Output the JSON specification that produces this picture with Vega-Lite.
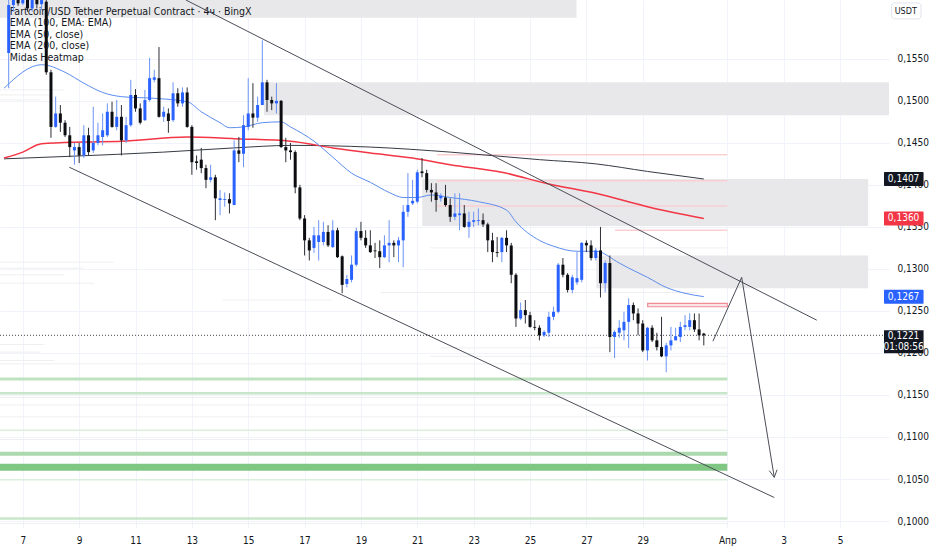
{
  "$schema": "https://vega.github.io/schema/vega-lite/v6.json",
  "width": 889,
  "height": 528,
  "autosize": "none",
  "padding": {"left": 0, "top": 0, "right": 43, "bottom": 22},
  "background": "white",
  "config": {
    "font": "'Liberation Sans Narrow', 'DejaVu Sans Condensed', Roboto",
    "view": {"stroke": null},
    "axis": {"labelFont": "'Liberation Sans Narrow', 'DejaVu Sans Condensed', Roboto", "labelColor": "#131722", "labelFontSize": 10, "gridColor": "#f0f3fa", "domain": false, "ticks": false}
  },
  "resolve": {"scale": {"color": "independent"}},
  "datasets": {
    "candles": [
      {"t": "2025-03-06T12:00Z", "o": 0.1557, "h": 0.1638, "l": 0.1515, "c": 0.1614},
      {"t": "2025-03-06T16:00Z", "o": 0.1614, "h": 0.1634, "l": 0.1606, "c": 0.1626},
      {"t": "2025-03-06T20:00Z", "o": 0.1626, "h": 0.1638, "l": 0.1613, "c": 0.1616},
      {"t": "2025-03-07T00:00Z", "o": 0.1616, "h": 0.1641, "l": 0.1614, "c": 0.1630},
      {"t": "2025-03-07T04:00Z", "o": 0.1630, "h": 0.1634, "l": 0.1606, "c": 0.1610},
      {"t": "2025-03-07T08:00Z", "o": 0.1610, "h": 0.1632, "l": 0.1606, "c": 0.1622},
      {"t": "2025-03-07T12:00Z", "o": 0.1622, "h": 0.1630, "l": 0.1610, "c": 0.1615},
      {"t": "2025-03-07T16:00Z", "o": 0.1615, "h": 0.1627, "l": 0.1608, "c": 0.1620},
      {"t": "2025-03-07T20:00Z", "o": 0.1618, "h": 0.1622, "l": 0.1531, "c": 0.1534},
      {"t": "2025-03-08T00:00Z", "o": 0.1534, "h": 0.1537, "l": 0.1456, "c": 0.1469},
      {"t": "2025-03-08T04:00Z", "o": 0.1469, "h": 0.1505, "l": 0.1468, "c": 0.1485},
      {"t": "2025-03-08T08:00Z", "o": 0.1485, "h": 0.1495, "l": 0.1463, "c": 0.1474},
      {"t": "2025-03-08T12:00Z", "o": 0.1474, "h": 0.1477, "l": 0.1457, "c": 0.1459},
      {"t": "2025-03-08T16:00Z", "o": 0.1459, "h": 0.1469, "l": 0.1433, "c": 0.1445},
      {"t": "2025-03-08T20:00Z", "o": 0.1441, "h": 0.1450, "l": 0.1424, "c": 0.1445},
      {"t": "2025-03-09T00:00Z", "o": 0.1445, "h": 0.1450, "l": 0.1426, "c": 0.1435},
      {"t": "2025-03-09T04:00Z", "o": 0.1435, "h": 0.1471, "l": 0.1432, "c": 0.1459},
      {"t": "2025-03-09T08:00Z", "o": 0.1459, "h": 0.1468, "l": 0.1435, "c": 0.1439},
      {"t": "2025-03-09T12:00Z", "o": 0.1441, "h": 0.1493, "l": 0.1438, "c": 0.1450},
      {"t": "2025-03-09T16:00Z", "o": 0.1450, "h": 0.1474, "l": 0.1447, "c": 0.1459},
      {"t": "2025-03-09T20:00Z", "o": 0.1457, "h": 0.1485, "l": 0.1447, "c": 0.1465},
      {"t": "2025-03-10T00:00Z", "o": 0.1459, "h": 0.1497, "l": 0.1457, "c": 0.1487},
      {"t": "2025-03-10T04:00Z", "o": 0.1487, "h": 0.1499, "l": 0.1468, "c": 0.1469},
      {"t": "2025-03-10T08:00Z", "o": 0.1469, "h": 0.1501, "l": 0.1465, "c": 0.1481},
      {"t": "2025-03-10T12:00Z", "o": 0.1481, "h": 0.1495, "l": 0.1435, "c": 0.1453},
      {"t": "2025-03-10T16:00Z", "o": 0.1453, "h": 0.1481, "l": 0.1450, "c": 0.1471},
      {"t": "2025-03-10T20:00Z", "o": 0.1471, "h": 0.1525, "l": 0.1469, "c": 0.1507},
      {"t": "2025-03-11T00:00Z", "o": 0.1507, "h": 0.1514, "l": 0.1487, "c": 0.1491},
      {"t": "2025-03-11T04:00Z", "o": 0.1491, "h": 0.1497, "l": 0.1472, "c": 0.1474},
      {"t": "2025-03-11T08:00Z", "o": 0.1477, "h": 0.1513, "l": 0.1476, "c": 0.1501},
      {"t": "2025-03-11T12:00Z", "o": 0.1501, "h": 0.1551, "l": 0.1499, "c": 0.1527},
      {"t": "2025-03-11T16:00Z", "o": 0.1525, "h": 0.1537, "l": 0.1522, "c": 0.1528},
      {"t": "2025-03-11T20:00Z", "o": 0.1527, "h": 0.1564, "l": 0.1480, "c": 0.1481},
      {"t": "2025-03-12T00:00Z", "o": 0.1481, "h": 0.1493, "l": 0.1475, "c": 0.1487},
      {"t": "2025-03-12T04:00Z", "o": 0.1485, "h": 0.1491, "l": 0.1462, "c": 0.1476},
      {"t": "2025-03-12T08:00Z", "o": 0.1477, "h": 0.1522, "l": 0.1475, "c": 0.1509},
      {"t": "2025-03-12T12:00Z", "o": 0.1509, "h": 0.1515, "l": 0.1493, "c": 0.1497},
      {"t": "2025-03-12T16:00Z", "o": 0.1497, "h": 0.1516, "l": 0.1493, "c": 0.1510},
      {"t": "2025-03-12T20:00Z", "o": 0.1510, "h": 0.1516, "l": 0.1468, "c": 0.1469},
      {"t": "2025-03-13T00:00Z", "o": 0.1469, "h": 0.1471, "l": 0.1412, "c": 0.1427},
      {"t": "2025-03-13T04:00Z", "o": 0.1428, "h": 0.1435, "l": 0.1418, "c": 0.1426},
      {"t": "2025-03-13T08:00Z", "o": 0.1430, "h": 0.1444, "l": 0.1414, "c": 0.1420},
      {"t": "2025-03-13T12:00Z", "o": 0.1420, "h": 0.1424, "l": 0.1396, "c": 0.1406},
      {"t": "2025-03-13T16:00Z", "o": 0.1406, "h": 0.1424, "l": 0.1403, "c": 0.1409},
      {"t": "2025-03-13T20:00Z", "o": 0.1409, "h": 0.1412, "l": 0.1358, "c": 0.1384},
      {"t": "2025-03-14T00:00Z", "o": 0.1382, "h": 0.1394, "l": 0.1364, "c": 0.1384},
      {"t": "2025-03-14T04:00Z", "o": 0.1382, "h": 0.1391, "l": 0.1374, "c": 0.1383},
      {"t": "2025-03-14T08:00Z", "o": 0.1383, "h": 0.1390, "l": 0.1366, "c": 0.1378},
      {"t": "2025-03-14T12:00Z", "o": 0.1376, "h": 0.1453, "l": 0.1376, "c": 0.1441},
      {"t": "2025-03-14T16:00Z", "o": 0.1441, "h": 0.1457, "l": 0.1427, "c": 0.1437},
      {"t": "2025-03-14T20:00Z", "o": 0.1437, "h": 0.1483, "l": 0.1421, "c": 0.1471},
      {"t": "2025-03-15T00:00Z", "o": 0.1469, "h": 0.1527, "l": 0.1465, "c": 0.1485},
      {"t": "2025-03-15T04:00Z", "o": 0.1485, "h": 0.1521, "l": 0.1468, "c": 0.1480},
      {"t": "2025-03-15T08:00Z", "o": 0.1480, "h": 0.1505, "l": 0.1475, "c": 0.1495},
      {"t": "2025-03-15T12:00Z", "o": 0.1495, "h": 0.1572, "l": 0.1495, "c": 0.1522},
      {"t": "2025-03-15T16:00Z", "o": 0.1522, "h": 0.1525, "l": 0.1487, "c": 0.1501},
      {"t": "2025-03-15T20:00Z", "o": 0.1501, "h": 0.1505, "l": 0.1489, "c": 0.1497},
      {"t": "2025-03-16T00:00Z", "o": 0.1497, "h": 0.1521, "l": 0.1485, "c": 0.1500},
      {"t": "2025-03-16T04:00Z", "o": 0.1500, "h": 0.1501, "l": 0.1444, "c": 0.1445},
      {"t": "2025-03-16T08:00Z", "o": 0.1445, "h": 0.1456, "l": 0.1427, "c": 0.1441},
      {"t": "2025-03-16T12:00Z", "o": 0.1441, "h": 0.1450, "l": 0.1430, "c": 0.1439},
      {"t": "2025-03-16T16:00Z", "o": 0.1439, "h": 0.1441, "l": 0.1390, "c": 0.1397},
      {"t": "2025-03-16T20:00Z", "o": 0.1397, "h": 0.1400, "l": 0.1358, "c": 0.1360},
      {"t": "2025-03-17T00:00Z", "o": 0.1360, "h": 0.1364, "l": 0.1316, "c": 0.1334},
      {"t": "2025-03-17T04:00Z", "o": 0.1334, "h": 0.1337, "l": 0.1310, "c": 0.1322},
      {"t": "2025-03-17T08:00Z", "o": 0.1325, "h": 0.1350, "l": 0.1319, "c": 0.1340},
      {"t": "2025-03-17T12:00Z", "o": 0.1332, "h": 0.1358, "l": 0.1310, "c": 0.1340},
      {"t": "2025-03-17T16:00Z", "o": 0.1332, "h": 0.1356, "l": 0.1328, "c": 0.1344},
      {"t": "2025-03-17T20:00Z", "o": 0.1344, "h": 0.1352, "l": 0.1326, "c": 0.1328},
      {"t": "2025-03-18T00:00Z", "o": 0.1326, "h": 0.1358, "l": 0.1325, "c": 0.1346},
      {"t": "2025-03-18T04:00Z", "o": 0.1346, "h": 0.1349, "l": 0.1313, "c": 0.1314},
      {"t": "2025-03-18T08:00Z", "o": 0.1315, "h": 0.1316, "l": 0.1271, "c": 0.1281},
      {"t": "2025-03-18T12:00Z", "o": 0.1282, "h": 0.1293, "l": 0.1278, "c": 0.1288},
      {"t": "2025-03-18T16:00Z", "o": 0.1287, "h": 0.1316, "l": 0.1284, "c": 0.1305},
      {"t": "2025-03-18T20:00Z", "o": 0.1305, "h": 0.1349, "l": 0.1303, "c": 0.1345},
      {"t": "2025-03-19T00:00Z", "o": 0.1345, "h": 0.1356, "l": 0.1334, "c": 0.1337},
      {"t": "2025-03-19T04:00Z", "o": 0.1337, "h": 0.1346, "l": 0.1325, "c": 0.1328},
      {"t": "2025-03-19T08:00Z", "o": 0.1328, "h": 0.1346, "l": 0.1319, "c": 0.1320},
      {"t": "2025-03-19T12:00Z", "o": 0.1322, "h": 0.1331, "l": 0.1313, "c": 0.1321},
      {"t": "2025-03-19T16:00Z", "o": 0.1321, "h": 0.1334, "l": 0.1301, "c": 0.1314},
      {"t": "2025-03-19T20:00Z", "o": 0.1314, "h": 0.1340, "l": 0.1313, "c": 0.1328},
      {"t": "2025-03-20T00:00Z", "o": 0.1328, "h": 0.1358, "l": 0.1308, "c": 0.1331},
      {"t": "2025-03-20T04:00Z", "o": 0.1331, "h": 0.1334, "l": 0.1314, "c": 0.1328},
      {"t": "2025-03-20T08:00Z", "o": 0.1328, "h": 0.1338, "l": 0.1308, "c": 0.1334},
      {"t": "2025-03-20T12:00Z", "o": 0.1334, "h": 0.1376, "l": 0.1302, "c": 0.1368},
      {"t": "2025-03-20T16:00Z", "o": 0.1368, "h": 0.1414, "l": 0.1362, "c": 0.1376},
      {"t": "2025-03-20T20:00Z", "o": 0.1378, "h": 0.1406, "l": 0.1376, "c": 0.1381},
      {"t": "2025-03-21T00:00Z", "o": 0.1380, "h": 0.1418, "l": 0.1378, "c": 0.1415},
      {"t": "2025-03-21T04:00Z", "o": 0.1416, "h": 0.1432, "l": 0.1409, "c": 0.1414},
      {"t": "2025-03-21T08:00Z", "o": 0.1414, "h": 0.1418, "l": 0.1391, "c": 0.1394},
      {"t": "2025-03-21T12:00Z", "o": 0.1394, "h": 0.1402, "l": 0.1380, "c": 0.1391},
      {"t": "2025-03-21T16:00Z", "o": 0.1391, "h": 0.1402, "l": 0.1368, "c": 0.1382},
      {"t": "2025-03-21T20:00Z", "o": 0.1384, "h": 0.1390, "l": 0.1380, "c": 0.1387},
      {"t": "2025-03-22T00:00Z", "o": 0.1385, "h": 0.1400, "l": 0.1374, "c": 0.1376},
      {"t": "2025-03-22T04:00Z", "o": 0.1376, "h": 0.1384, "l": 0.1356, "c": 0.1362},
      {"t": "2025-03-22T08:00Z", "o": 0.1362, "h": 0.1390, "l": 0.1358, "c": 0.1366},
      {"t": "2025-03-22T12:00Z", "o": 0.1364, "h": 0.1390, "l": 0.1346, "c": 0.1366},
      {"t": "2025-03-22T16:00Z", "o": 0.1366, "h": 0.1376, "l": 0.1349, "c": 0.1350},
      {"t": "2025-03-22T20:00Z", "o": 0.1350, "h": 0.1368, "l": 0.1337, "c": 0.1356},
      {"t": "2025-03-23T00:00Z", "o": 0.1356, "h": 0.1368, "l": 0.1350, "c": 0.1358},
      {"t": "2025-03-23T04:00Z", "o": 0.1357, "h": 0.1372, "l": 0.1352, "c": 0.1358},
      {"t": "2025-03-23T08:00Z", "o": 0.1358, "h": 0.1366, "l": 0.1350, "c": 0.1353},
      {"t": "2025-03-23T12:00Z", "o": 0.1353, "h": 0.1355, "l": 0.1320, "c": 0.1334},
      {"t": "2025-03-23T16:00Z", "o": 0.1334, "h": 0.1343, "l": 0.1308, "c": 0.1320},
      {"t": "2025-03-23T20:00Z", "o": 0.1320, "h": 0.1338, "l": 0.1314, "c": 0.1319},
      {"t": "2025-03-24T00:00Z", "o": 0.1320, "h": 0.1338, "l": 0.1308, "c": 0.1337},
      {"t": "2025-03-24T04:00Z", "o": 0.1337, "h": 0.1346, "l": 0.1320, "c": 0.1328},
      {"t": "2025-03-24T08:00Z", "o": 0.1328, "h": 0.1331, "l": 0.1283, "c": 0.1293},
      {"t": "2025-03-24T12:00Z", "o": 0.1293, "h": 0.1295, "l": 0.1231, "c": 0.1241},
      {"t": "2025-03-24T16:00Z", "o": 0.1241, "h": 0.1260, "l": 0.1239, "c": 0.1251},
      {"t": "2025-03-24T20:00Z", "o": 0.1251, "h": 0.1263, "l": 0.1235, "c": 0.1245},
      {"t": "2025-03-25T00:00Z", "o": 0.1245, "h": 0.1249, "l": 0.1230, "c": 0.1231},
      {"t": "2025-03-25T04:00Z", "o": 0.1231, "h": 0.1239, "l": 0.1227, "c": 0.1230},
      {"t": "2025-03-25T08:00Z", "o": 0.1230, "h": 0.1233, "l": 0.1215, "c": 0.1221},
      {"t": "2025-03-25T12:00Z", "o": 0.1221, "h": 0.1227, "l": 0.1219, "c": 0.1225},
      {"t": "2025-03-25T16:00Z", "o": 0.1224, "h": 0.1249, "l": 0.1219, "c": 0.1243},
      {"t": "2025-03-25T20:00Z", "o": 0.1243, "h": 0.1255, "l": 0.1239, "c": 0.1249},
      {"t": "2025-03-26T00:00Z", "o": 0.1249, "h": 0.1307, "l": 0.1247, "c": 0.1305},
      {"t": "2025-03-26T04:00Z", "o": 0.1305, "h": 0.1313, "l": 0.1290, "c": 0.1293},
      {"t": "2025-03-26T08:00Z", "o": 0.1293, "h": 0.1295, "l": 0.1272, "c": 0.1275},
      {"t": "2025-03-26T12:00Z", "o": 0.1275, "h": 0.1293, "l": 0.1271, "c": 0.1290},
      {"t": "2025-03-26T16:00Z", "o": 0.1284, "h": 0.1320, "l": 0.1281, "c": 0.1289},
      {"t": "2025-03-26T20:00Z", "o": 0.1287, "h": 0.1332, "l": 0.1284, "c": 0.1331},
      {"t": "2025-03-27T00:00Z", "o": 0.1331, "h": 0.1334, "l": 0.1320, "c": 0.1328},
      {"t": "2025-03-27T04:00Z", "o": 0.1328, "h": 0.1334, "l": 0.1310, "c": 0.1313},
      {"t": "2025-03-27T08:00Z", "o": 0.1313, "h": 0.1325, "l": 0.1310, "c": 0.1322},
      {"t": "2025-03-27T12:00Z", "o": 0.1322, "h": 0.1350, "l": 0.1266, "c": 0.1283},
      {"t": "2025-03-27T16:00Z", "o": 0.1283, "h": 0.1310, "l": 0.1272, "c": 0.1307},
      {"t": "2025-03-27T20:00Z", "o": 0.1307, "h": 0.1316, "l": 0.1201, "c": 0.1219},
      {"t": "2025-03-28T00:00Z", "o": 0.1219, "h": 0.1227, "l": 0.1194, "c": 0.1225},
      {"t": "2025-03-28T04:00Z", "o": 0.1224, "h": 0.1239, "l": 0.1218, "c": 0.1230},
      {"t": "2025-03-28T08:00Z", "o": 0.1227, "h": 0.1249, "l": 0.1215, "c": 0.1237},
      {"t": "2025-03-28T12:00Z", "o": 0.1237, "h": 0.1265, "l": 0.1206, "c": 0.1257},
      {"t": "2025-03-28T16:00Z", "o": 0.1257, "h": 0.1260, "l": 0.1239, "c": 0.1247},
      {"t": "2025-03-28T20:00Z", "o": 0.1247, "h": 0.1253, "l": 0.1221, "c": 0.1235},
      {"t": "2025-03-29T00:00Z", "o": 0.1235, "h": 0.1239, "l": 0.1201, "c": 0.1203},
      {"t": "2025-03-29T04:00Z", "o": 0.1203, "h": 0.1231, "l": 0.1191, "c": 0.1230},
      {"t": "2025-03-29T08:00Z", "o": 0.1230, "h": 0.1233, "l": 0.1213, "c": 0.1215},
      {"t": "2025-03-29T12:00Z", "o": 0.1215, "h": 0.1224, "l": 0.1203, "c": 0.1207},
      {"t": "2025-03-29T16:00Z", "o": 0.1207, "h": 0.1243, "l": 0.1195, "c": 0.1196},
      {"t": "2025-03-29T20:00Z", "o": 0.1196, "h": 0.1212, "l": 0.1177, "c": 0.1209},
      {"t": "2025-03-30T00:00Z", "o": 0.1209, "h": 0.1231, "l": 0.1203, "c": 0.1215},
      {"t": "2025-03-30T04:00Z", "o": 0.1215, "h": 0.1230, "l": 0.1215, "c": 0.1220},
      {"t": "2025-03-30T08:00Z", "o": 0.1219, "h": 0.1237, "l": 0.1213, "c": 0.1231},
      {"t": "2025-03-30T12:00Z", "o": 0.1231, "h": 0.1245, "l": 0.1227, "c": 0.1233},
      {"t": "2025-03-30T16:00Z", "o": 0.1231, "h": 0.1247, "l": 0.1227, "c": 0.1239},
      {"t": "2025-03-30T20:00Z", "o": 0.1239, "h": 0.1247, "l": 0.1225, "c": 0.1228},
      {"t": "2025-03-31T00:00Z", "o": 0.1228, "h": 0.1247, "l": 0.1215, "c": 0.1221},
      {"t": "2025-03-31T04:00Z", "o": 0.1223, "h": 0.1224, "l": 0.1209, "c": 0.1221}
    ],
    "ema": [
      {"s": "ema100", "t": "2025-03-06T08:00Z", "p": 0.1431},
      {"s": "ema100", "t": "2025-03-08T16:00Z", "p": 0.1434},
      {"s": "ema100", "t": "2025-03-12T00:00Z", "p": 0.1439},
      {"s": "ema100", "t": "2025-03-14T12:00Z", "p": 0.1444},
      {"s": "ema100", "t": "2025-03-16T12:00Z", "p": 0.1447},
      {"s": "ema100", "t": "2025-03-19T08:00Z", "p": 0.1445},
      {"s": "ema100", "t": "2025-03-22T04:00Z", "p": 0.1439},
      {"s": "ema100", "t": "2025-03-25T08:00Z", "p": 0.1430},
      {"s": "ema100", "t": "2025-03-27T08:00Z", "p": 0.1425},
      {"s": "ema100", "t": "2025-03-29T04:00Z", "p": 0.1416},
      {"s": "ema100", "t": "2025-03-31T04:00Z", "p": 0.1407},
      {"s": "ema200", "t": "2025-03-06T08:00Z", "p": 0.1432},
      {"s": "ema200", "t": "2025-03-07T00:00Z", "p": 0.1439},
      {"s": "ema200", "t": "2025-03-07T16:00Z", "p": 0.1449},
      {"s": "ema200", "t": "2025-03-09T04:00Z", "p": 0.1451},
      {"s": "ema200", "t": "2025-03-10T12:00Z", "p": 0.1452},
      {"s": "ema200", "t": "2025-03-12T20:00Z", "p": 0.1457},
      {"s": "ema200", "t": "2025-03-14T12:00Z", "p": 0.1455},
      {"s": "ema200", "t": "2025-03-16T12:00Z", "p": 0.1452},
      {"s": "ema200", "t": "2025-03-18T00:00Z", "p": 0.1444},
      {"s": "ema200", "t": "2025-03-19T08:00Z", "p": 0.1438},
      {"s": "ema200", "t": "2025-03-20T20:00Z", "p": 0.1432},
      {"s": "ema200", "t": "2025-03-22T04:00Z", "p": 0.1424},
      {"s": "ema200", "t": "2025-03-24T00:00Z", "p": 0.1415},
      {"s": "ema200", "t": "2025-03-25T16:00Z", "p": 0.1401},
      {"s": "ema200", "t": "2025-03-27T08:00Z", "p": 0.1390},
      {"s": "ema200", "t": "2025-03-29T04:00Z", "p": 0.1374},
      {"s": "ema200", "t": "2025-03-31T04:00Z", "p": 0.1360},
      {"s": "ema50", "t": "2025-03-06T08:00Z", "p": 0.1515},
      {"s": "ema50", "t": "2025-03-07T16:00Z", "p": 0.1543},
      {"s": "ema50", "t": "2025-03-08T12:00Z", "p": 0.1534},
      {"s": "ema50", "t": "2025-03-09T04:00Z", "p": 0.1521},
      {"s": "ema50", "t": "2025-03-09T20:00Z", "p": 0.1510},
      {"s": "ema50", "t": "2025-03-10T12:00Z", "p": 0.1505},
      {"s": "ema50", "t": "2025-03-11T16:00Z", "p": 0.1503},
      {"s": "ema50", "t": "2025-03-12T20:00Z", "p": 0.1499},
      {"s": "ema50", "t": "2025-03-13T08:00Z", "p": 0.1487},
      {"s": "ema50", "t": "2025-03-14T00:00Z", "p": 0.1474},
      {"s": "ema50", "t": "2025-03-14T08:00Z", "p": 0.1468},
      {"s": "ema50", "t": "2025-03-14T20:00Z", "p": 0.1469},
      {"s": "ema50", "t": "2025-03-15T12:00Z", "p": 0.1474},
      {"s": "ema50", "t": "2025-03-16T04:00Z", "p": 0.1475},
      {"s": "ema50", "t": "2025-03-16T12:00Z", "p": 0.1469},
      {"s": "ema50", "t": "2025-03-17T08:00Z", "p": 0.1452},
      {"s": "ema50", "t": "2025-03-18T00:00Z", "p": 0.1433},
      {"s": "ema50", "t": "2025-03-18T16:00Z", "p": 0.1414},
      {"s": "ema50", "t": "2025-03-19T08:00Z", "p": 0.1403},
      {"s": "ema50", "t": "2025-03-20T00:00Z", "p": 0.1391},
      {"s": "ema50", "t": "2025-03-20T12:00Z", "p": 0.1385},
      {"s": "ema50", "t": "2025-03-21T00:00Z", "p": 0.1385},
      {"s": "ema50", "t": "2025-03-21T12:00Z", "p": 0.1388},
      {"s": "ema50", "t": "2025-03-22T04:00Z", "p": 0.1385},
      {"s": "ema50", "t": "2025-03-23T04:00Z", "p": 0.1380},
      {"s": "ema50", "t": "2025-03-24T04:00Z", "p": 0.1370},
      {"s": "ema50", "t": "2025-03-24T12:00Z", "p": 0.1356},
      {"s": "ema50", "t": "2025-03-25T08:00Z", "p": 0.1334},
      {"s": "ema50", "t": "2025-03-25T20:00Z", "p": 0.1327},
      {"s": "ema50", "t": "2025-03-26T16:00Z", "p": 0.1321},
      {"s": "ema50", "t": "2025-03-27T08:00Z", "p": 0.1321},
      {"s": "ema50", "t": "2025-03-28T04:00Z", "p": 0.1307},
      {"s": "ema50", "t": "2025-03-28T12:00Z", "p": 0.1301},
      {"s": "ema50", "t": "2025-03-29T04:00Z", "p": 0.1290},
      {"s": "ema50", "t": "2025-03-29T20:00Z", "p": 0.1278},
      {"s": "ema50", "t": "2025-03-30T12:00Z", "p": 0.1271},
      {"s": "ema50", "t": "2025-03-31T04:00Z", "p": 0.1267}
    ],
    "drawings": [
      {"id": "upper", "k": 0, "t": "2025-03-12T18:56Z", "p": 0.1620},
      {"id": "upper", "k": 1, "t": "2025-04-04T04:12Z", "p": 0.1239},
      {"id": "lower", "k": 0, "t": "2025-03-08T15:35Z", "p": 0.1421},
      {"id": "lower", "k": 1, "t": "2025-04-02T16:00Z", "p": 0.1028},
      {"id": "path", "k": 0, "t": "2025-03-31T11:47Z", "p": 0.1214},
      {"id": "path", "k": 1, "t": "2025-04-01T12:15Z", "p": 0.1290},
      {"id": "path", "k": 2, "t": "2025-04-02T16:00Z", "p": 0.1052},
      {"id": "head", "k": 0, "t": "2025-04-02T11:43Z", "p": 0.1060},
      {"id": "head", "k": 1, "t": "2025-04-02T16:00Z", "p": 0.1052},
      {"id": "head", "k": 2, "t": "2025-04-02T18:22Z", "p": 0.1061}
    ],
    "zones": [
      {"t1": "2025-03-06T00:00Z", "t2": "2025-03-26T15:36Z", "p1": 0.1599, "p2": 0.1630},
      {"t1": "2025-03-15T13:28Z", "t2": "2025-04-06T18:00Z", "p1": 0.1483, "p2": 0.1522},
      {"t1": "2025-03-21T04:12Z", "t2": "2025-04-06T00:00Z", "p1": 0.1351, "p2": 0.1407},
      {"t1": "2025-03-27T08:25Z", "t2": "2025-04-06T00:00Z", "p1": 0.1277, "p2": 0.1316}
    ],
    "levels": [
      {"t1": "2025-03-06T00:00Z", "t2": "2025-03-08T11:22Z", "p": 0.1513, "lvl": "g"},
      {"t1": "2025-03-06T00:00Z", "t2": "2025-03-07T22:44Z", "p": 0.1507, "lvl": "g"},
      {"t1": "2025-03-06T00:00Z", "t2": "2025-03-07T14:19Z", "p": 0.1501, "lvl": "g"},
      {"t1": "2025-03-06T00:00Z", "t2": "2025-03-10T05:28Z", "p": 0.1308, "lvl": "g"},
      {"t1": "2025-03-06T00:00Z", "t2": "2025-03-09T04:13Z", "p": 0.1301, "lvl": "g"},
      {"t1": "2025-03-06T00:00Z", "t2": "2025-03-08T11:22Z", "p": 0.1293, "lvl": "g"},
      {"t1": "2025-03-06T00:00Z", "t2": "2025-03-09T12:38Z", "p": 0.1283, "lvl": "g"},
      {"t1": "2025-03-14T02:07Z", "t2": "2025-03-17T22:44Z", "p": 0.1263, "lvl": "g"},
      {"t1": "2025-03-06T00:00Z", "t2": "2025-03-07T18:32Z", "p": 0.1210, "lvl": "g"},
      {"t1": "2025-03-06T00:00Z", "t2": "2025-03-07T14:19Z", "p": 0.1201, "lvl": "g"},
      {"t1": "2025-03-06T00:00Z", "t2": "2025-03-08T02:57Z", "p": 0.1191, "lvl": "g"},
      {"t1": "2025-03-21T19:22Z", "t2": "2025-04-01T00:00Z", "p": 0.1206, "lvl": "g"},
      {"t1": "2025-03-21T10:57Z", "t2": "2025-04-01T00:00Z", "p": 0.1196, "lvl": "g"},
      {"t1": "2025-03-06T00:00Z", "t2": "2025-04-01T00:00Z", "p": 0.1187, "lvl": "g"},
      {"t1": "2025-03-06T00:00Z", "t2": "2025-04-01T00:00Z", "p": 0.1147, "lvl": "g"},
      {"t1": "2025-03-06T00:00Z", "t2": "2025-04-01T00:00Z", "p": 0.1138, "lvl": "g"},
      {"t1": "2025-03-06T00:00Z", "t2": "2025-04-01T00:00Z", "p": 0.1124, "lvl": "g"},
      {"t1": "2025-03-06T00:00Z", "t2": "2025-04-01T00:00Z", "p": 0.1097, "lvl": "g"},
      {"t1": "2025-03-06T00:00Z", "t2": "2025-04-01T00:00Z", "p": 0.0997, "lvl": "g"},
      {"t1": "2025-03-21T10:57Z", "t2": "2025-04-01T00:00Z", "p": 0.1325, "lvl": "g"},
      {"t1": "2025-03-19T16:51Z", "t2": "2025-03-30T22:19Z", "p": 0.1272, "lvl": "g"},
      {"t1": "2025-03-21T16:50Z", "t2": "2025-04-01T00:00Z", "p": 0.1436, "lvl": "s"},
      {"t1": "2025-03-21T16:50Z", "t2": "2025-04-01T00:00Z", "p": 0.1405, "lvl": "s"},
      {"t1": "2025-03-21T16:50Z", "t2": "2025-04-01T00:00Z", "p": 0.1375, "lvl": "s"},
      {"t1": "2025-03-28T00:25Z", "t2": "2025-04-01T00:00Z", "p": 0.1346, "lvl": "s"},
      {"t1": "2025-03-06T00:00Z", "t2": "2025-04-01T00:00Z", "p": 0.1169, "lvl": "b2"},
      {"t1": "2025-03-06T00:00Z", "t2": "2025-04-01T00:00Z", "p": 0.1152, "lvl": "b1"},
      {"t1": "2025-03-06T00:00Z", "t2": "2025-04-01T00:00Z", "p": 0.1108, "lvl": "b0"},
      {"t1": "2025-03-06T00:00Z", "t2": "2025-04-01T00:00Z", "p": 0.1080, "lvl": "b3"},
      {"t1": "2025-03-06T00:00Z", "t2": "2025-04-01T00:00Z", "p": 0.1064, "lvl": "b4"},
      {"t1": "2025-03-06T00:00Z", "t2": "2025-04-01T00:00Z", "p": 0.1049, "lvl": "b0"},
      {"t1": "2025-03-06T00:00Z", "t2": "2025-04-01T00:00Z", "p": 0.1003, "lvl": "b1"}
    ],
    "tags": [
      {"txt": "0,1407", "p": 0.1407, "k": "ema100"},
      {"txt": "0,1360", "p": 0.1360, "k": "ema200"},
      {"txt": "0,1267", "p": 0.1267, "k": "ema50"}
    ]
  },
  "layer": [
    {
      "data": {"name": "zones"},
      "mark": {"type": "rect", "color": "#e8e8ea", "clip": true},
      "encoding": {
        "x": {
          "field": "t1", "type": "temporal", "title": null,
          "scale": {"type": "utc", "domain": [{"year": 2025, "month": 3, "date": 6, "hours": 8, "minutes": 51, "utc": true}, {"year": 2025, "month": 4, "date": 6, "hours": 13, "minutes": 28, "utc": true}]},
          "axis": {
            "values": [
              {"year": 2025, "month": 3, "date": 7, "utc": true}, {"year": 2025, "month": 3, "date": 9, "utc": true},
              {"year": 2025, "month": 3, "date": 11, "utc": true}, {"year": 2025, "month": 3, "date": 13, "utc": true},
              {"year": 2025, "month": 3, "date": 15, "utc": true}, {"year": 2025, "month": 3, "date": 17, "utc": true},
              {"year": 2025, "month": 3, "date": 19, "utc": true}, {"year": 2025, "month": 3, "date": 21, "utc": true},
              {"year": 2025, "month": 3, "date": 23, "utc": true}, {"year": 2025, "month": 3, "date": 25, "utc": true},
              {"year": 2025, "month": 3, "date": 27, "utc": true}, {"year": 2025, "month": 3, "date": 29, "utc": true},
              {"year": 2025, "month": 4, "date": 1, "utc": true}, {"year": 2025, "month": 4, "date": 3, "utc": true},
              {"year": 2025, "month": 4, "date": 5, "utc": true}
            ],
            "labelExpr": "utcdate(datum.value) == 1 ? 'Апр' : '' + utcdate(datum.value)",
            "labelPadding": 7,
            "labelBaseline": "top",
            "grid": true
          }
        },
        "x2": {"field": "t2"},
        "y": {
          "field": "p1", "type": "quantitative", "title": null,
          "scale": {"domain": [0.09917, 0.162], "nice": false, "zero": false},
          "axis": {
            "orient": "right",
            "values": [0.1, 0.105, 0.11, 0.115, 0.12, 0.125, 0.13, 0.135, 0.14, 0.145, 0.15, 0.155],
            "labelExpr": "replace(format(datum.value, '.4f'), '.', ',')",
            "labelPadding": 8,
            "grid": true
          }
        },
        "y2": {"field": "p2"}
      }
    },
    {
      "data": {"name": "levels"},
      "encoding": {
        "x": {"field": "t1", "type": "temporal", "title": null},
        "x2": {"field": "t2"},
        "y": {"field": "p", "type": "quantitative", "title": null}
      },
      "layer": [
        {"transform": [{"filter": "datum.lvl == 'g'"}], "mark": {"type": "rule", "clip": true, "color": "#efeff1", "strokeWidth": 1}},
        {"transform": [{"filter": "datum.lvl == 's'"}], "mark": {"type": "rule", "clip": true, "color": "#f9cfd3", "strokeWidth": 1.5}},
        {"transform": [{"filter": "datum.lvl == 'b0'"}], "mark": {"type": "rule", "clip": true, "color": "#dcefdd", "strokeWidth": 1.5}},
        {"transform": [{"filter": "datum.lvl == 'b1'"}], "mark": {"type": "rule", "clip": true, "color": "#c8e6c9", "strokeWidth": 2.5}},
        {"transform": [{"filter": "datum.lvl == 'b2'"}], "mark": {"type": "rule", "clip": true, "color": "#bfe2c0", "strokeWidth": 3}},
        {"transform": [{"filter": "datum.lvl == 'b3'"}], "mark": {"type": "rule", "clip": true, "color": "#acd9ae", "strokeWidth": 4}},
        {"transform": [{"filter": "datum.lvl == 'b4'"}], "mark": {"type": "rule", "clip": true, "color": "#81c784", "strokeWidth": 7}}
      ]
    },
    {
      "data": {"values": [{}]},
      "mark": {"type": "rect", "fill": "#fbe4e6", "stroke": "#f08c96", "strokeWidth": 1.2},
      "encoding": {
        "x": {"datum": {"year": 2025, "month": 3, "date": 29, "hours": 4, "minutes": 12, "utc": true}, "type": "temporal"},
        "x2": {"datum": {"year": 2025, "month": 4, "date": 1, "utc": true}},
        "y": {"datum": 0.1259, "type": "quantitative"},
        "y2": {"datum": 0.1255}
      }
    },
    {
      "data": {"values": [{}]},
      "mark": {
        "type": "text", "align": "left", "baseline": "top", "fontSize": 10.5, "lineHeight": 11.5, "color": "#131722",
        "text": ["Fartcoin/USD Tether Perpetual Contract · 4ч · BingX", "EMA (100, EMA: EMA)", "EMA (50, close)", "EMA (200, close)", "Midas Heatmap"]
      },
      "encoding": {
        "x": {"datum": {"year": 2025, "month": 3, "date": 6, "hours": 13, "utc": true}, "type": "temporal"},
        "y": {"datum": 0.1612, "type": "quantitative"}
      }
    },
    {
      "data": {"name": "ema"},
      "encoding": {
        "x": {"field": "t", "type": "temporal", "title": null},
        "y": {"field": "p", "type": "quantitative", "title": null}
      },
      "layer": [
        {"transform": [{"filter": "datum.s == 'ema100'"}], "mark": {"type": "line", "interpolate": "monotone", "clip": true, "color": "#363a45", "strokeWidth": 1}},
        {"transform": [{"filter": "datum.s == 'ema200'"}], "mark": {"type": "line", "interpolate": "monotone", "clip": true, "color": "#f23645", "strokeWidth": 1.5}},
        {"transform": [{"filter": "datum.s == 'ema50'"}], "mark": {"type": "line", "interpolate": "monotone", "clip": true, "color": "#5b8def", "strokeWidth": 1}}
      ]
    },
    {
      "data": {"name": "drawings"},
      "mark": {"type": "line", "color": "#4a4d57", "strokeWidth": 1, "clip": true},
      "encoding": {
        "x": {"field": "t", "type": "temporal", "title": null},
        "y": {"field": "p", "type": "quantitative", "title": null},
        "detail": {"field": "id"},
        "order": {"field": "k"}
      }
    },
    {
      "data": {"values": [{}]},
      "mark": {"type": "rule", "color": "#131722", "strokeDash": [1, 2], "strokeWidth": 1, "opacity": 0.8},
      "encoding": {"y": {"datum": 0.1221, "type": "quantitative"}}
    },
    {
      "data": {"name": "candles"},
      "mark": {"type": "rule", "strokeWidth": 1, "clip": true},
      "encoding": {
        "x": {"field": "t", "type": "temporal", "title": null},
        "y": {"field": "l", "type": "quantitative", "title": null},
        "y2": {"field": "h"},
        "color": {"condition": {"test": "datum.c >= datum.o", "value": "#6b93f5"}, "value": "#2f3037"}
      }
    },
    {
      "data": {"name": "candles"},
      "mark": {"type": "bar", "size": 3, "clip": true},
      "encoding": {
        "x": {"field": "t", "type": "temporal", "title": null},
        "y": {"field": "o", "type": "quantitative", "title": null},
        "y2": {"field": "c"},
        "color": {"condition": {"test": "datum.c >= datum.o", "value": "#2962ff"}, "value": "#0c0d10"}
      }
    },
    {
      "data": {"name": "tags"},
      "mark": {"type": "rect", "yOffset": -7, "y2Offset": 7, "cornerRadius": 1},
      "encoding": {
        "x": {"datum": {"year": 2025, "month": 4, "date": 6, "hours": 13, "minutes": 28, "utc": true}, "type": "temporal"},
        "x2": {"datum": {"year": 2025, "month": 4, "date": 7, "hours": 23, "minutes": 10, "utc": true}},
        "y": {"field": "p", "type": "quantitative", "title": null},
        "y2": {"field": "p"},
        "color": {"field": "k", "type": "nominal", "legend": null, "scale": {"domain": ["ema100", "ema200", "ema50"], "range": ["#131722", "#f23645", "#2962ff"]}}
      }
    },
    {
      "data": {"name": "tags"},
      "mark": {"type": "text", "color": "white", "fontSize": 10, "align": "center", "baseline": "middle"},
      "encoding": {
        "x": {"datum": {"year": 2025, "month": 4, "date": 7, "hours": 6, "minutes": 10, "utc": true}, "type": "temporal"},
        "y": {"field": "p", "type": "quantitative", "title": null},
        "text": {"field": "txt"}
      }
    },
    {
      "data": {"values": [{}]},
      "mark": {"type": "rect", "color": "#131722", "yOffset": -5, "y2Offset": 18},
      "encoding": {
        "x": {"datum": {"year": 2025, "month": 4, "date": 6, "hours": 13, "minutes": 28, "utc": true}, "type": "temporal"},
        "x2": {"datum": {"year": 2025, "month": 4, "date": 7, "hours": 23, "minutes": 10, "utc": true}},
        "y": {"datum": 0.1221, "type": "quantitative"},
        "y2": {"datum": 0.1221}
      }
    },
    {
      "data": {"values": [{}]},
      "mark": {"type": "text", "color": "white", "fontSize": 10, "align": "center", "baseline": "top", "dy": -4, "lineHeight": 10.5, "text": ["0,1221", "01:08:56"]},
      "encoding": {
        "x": {"datum": {"year": 2025, "month": 4, "date": 7, "hours": 6, "minutes": 10, "utc": true}, "type": "temporal"},
        "y": {"datum": 0.1221, "type": "quantitative"}
      }
    },
    {
      "data": {"values": [{}]},
      "mark": {"type": "rect", "fill": "white", "stroke": "#e0e3eb", "strokeWidth": 1, "cornerRadius": 3, "yOffset": -8, "y2Offset": 8},
      "encoding": {
        "x": {"datum": {"year": 2025, "month": 4, "date": 6, "hours": 20, "utc": true}, "type": "temporal"},
        "x2": {"datum": {"year": 2025, "month": 4, "date": 7, "hours": 21, "utc": true}},
        "y": {"datum": 0.1607, "type": "quantitative"},
        "y2": {"datum": 0.1607}
      }
    },
    {
      "data": {"values": [{}]},
      "mark": {"type": "text", "color": "#131722", "fontSize": 9, "align": "center", "baseline": "middle", "text": "USDT"},
      "encoding": {
        "x": {"datum": {"year": 2025, "month": 4, "date": 7, "hours": 8, "utc": true}, "type": "temporal"},
        "y": {"datum": 0.1607, "type": "quantitative"}
      }
    }
  ]
}
